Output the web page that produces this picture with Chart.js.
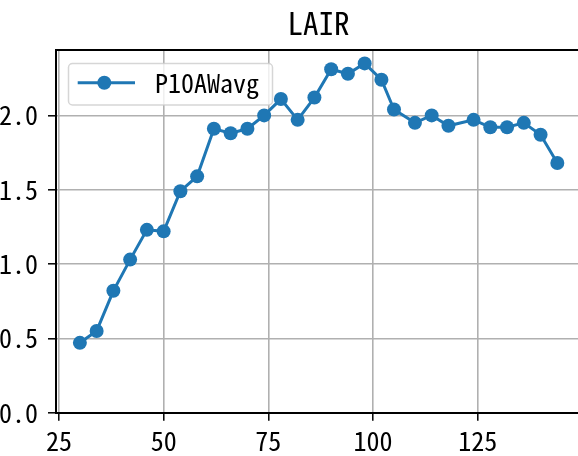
<!DOCTYPE html>
<html>
<head>
<meta charset="utf-8">
<script src="https://cdn.jsdelivr.net/npm/chart.js@4.4.1/dist/chart.umd.min.js"></script>
<style>
  html, body { margin: 0; padding: 0; background: #fff; overflow: hidden; width: 578px; height: 456px; }
  #wrap { position: absolute; left: -40px; top: 0; width: 640px; height: 456px; }
</style>
</head>
<body>
<div id="wrap"><canvas id="chart" width="640" height="456"></canvas></div>
<script>
// values
const titleText = 'LAIR';
const seriesName = 'P10AWavg';
const xValues = [30, 34, 38, 42, 46, 50, 54, 58, 62, 66, 70, 74, 78, 82, 86, 90, 94, 98, 102, 105, 110, 114, 118, 124, 128, 132, 136, 140, 144];
const yValues = [0.47, 0.55, 0.82, 1.03, 1.23, 1.22, 1.49, 1.59, 1.91, 1.88, 1.91, 2.00, 2.11, 1.97, 2.12, 2.31, 2.28, 2.35, 2.24, 2.04, 1.95, 2.00, 1.93, 1.97, 1.92, 1.92, 1.95, 1.87, 1.68];
const xTicks = [25, 50, 75, 100, 125];
const yTicks = [0, 0.5, 1.0, 1.5, 2.0];
const xRange = [24.3, 149.7];
const yRange = [0, 2.44];

const lineColor = '#1f77b4';
const fontFamily = '"Noto Sans Mono CJK JP", "DejaVu Sans Mono", monospace';

// top/right spines
const frame = {
    id: 'frame',
    afterDraw(chart) {
        const a = chart.chartArea, c = chart.ctx;
        c.save();
        c.strokeStyle = '#000';
        c.lineWidth = 2;
        c.beginPath();
        c.moveTo(a.left, a.top);
        c.lineTo(a.right, a.top);
        c.lineTo(a.right, a.bottom);
        c.stroke();
        c.restore();
    }
};

// matplotlib style legend box in the upper left
const boxLegend = {
    id: 'boxLegend',
    afterDraw(chart) {
        const a = chart.chartArea, c = chart.ctx;
        const x = a.left + 12.5, y = a.top + 13.5, w = 204, h = 41.5;
        c.save();
        c.beginPath();
        c.roundRect(x, y, w, h, 4);
        c.fillStyle = 'rgba(255,255,255,0.8)';
        c.fill();
        c.strokeStyle = 'rgba(204,204,204,0.8)';
        c.lineWidth = 1.5;
        c.stroke();
        const ly = a.top + 32.7;
        c.strokeStyle = lineColor;
        c.lineWidth = 3;
        c.beginPath();
        c.moveTo(a.left + 21.7, ly);
        c.lineTo(a.left + 79, ly);
        c.stroke();
        c.fillStyle = lineColor;
        c.beginPath();
        c.arc(a.left + 48.3, ly, 7, 0, Math.PI * 2);
        c.fill();
        c.fillStyle = '#000';
        c.font = '26px ' + fontFamily;
        c.textBaseline = 'middle';
        c.textAlign = 'left';
        c.fillText(chart.data.datasets[0].label, a.left + 99, ly + 0.5);
        c.restore();
    }
};

new Chart(document.getElementById('chart').getContext('2d'), {
    type: 'line',
    data: {
        datasets: [{
            label: seriesName,
            data: xValues.map((x, i) => ({ x: x, y: yValues[i] })),
            borderColor: lineColor,
            backgroundColor: lineColor,
            borderWidth: 3,
            pointRadius: 7,
            pointBorderWidth: 0,
            pointBackgroundColor: lineColor,
            tension: 0
        }]
    },
    options: {
        responsive: false,
        devicePixelRatio: 1,
        animation: false,
        layout: { padding: { left: 0, right: 18.8, top: 0, bottom: 0 } },
        plugins: {
            legend: { display: false },
            tooltip: { enabled: false },
            title: {
                display: true,
                text: titleText,
                fullSize: false,
                color: '#000',
                font: { family: fontFamily, size: 31, weight: 'normal', lineHeight: 1.2 },
                padding: { top: 4.8, bottom: 8 }
            }
        },
        scales: {
            x: {
                type: 'linear',
                min: xRange[0],
                max: xRange[1],
                afterBuildTicks: s => { s.ticks = xTicks.map(v => ({ value: v })); },
                afterFit: s => { s.height = 43.3; },
                ticks: {
                    color: '#000',
                    padding: 5,
                    maxRotation: 0,
                    font: { family: fontFamily, size: 26 },
                    callback: v => String(v)
                },
                grid: { color: '#b0b0b0', lineWidth: 1.6, tickLength: 8, tickColor: '#000', tickWidth: 1.5 },
                border: { display: true, color: '#000', width: 2 }
            },
            y: {
                min: yRange[0],
                max: yRange[1],
                afterBuildTicks: s => { s.ticks = yTicks.map(v => ({ value: v })); },
                afterFit: s => { s.width = 96; },
                ticks: {
                    color: '#000',
                    padding: 10,
                    font: { family: fontFamily, size: 26 },
                    callback: v => Number(v).toFixed(1)
                },
                grid: { color: '#b0b0b0', lineWidth: 1.6, tickLength: 8, tickColor: '#000', tickWidth: 1.5 },
                border: { display: true, color: '#000', width: 2 }
            }
        }
    },
    plugins: [frame, boxLegend]
});
</script>
</body>
</html>
